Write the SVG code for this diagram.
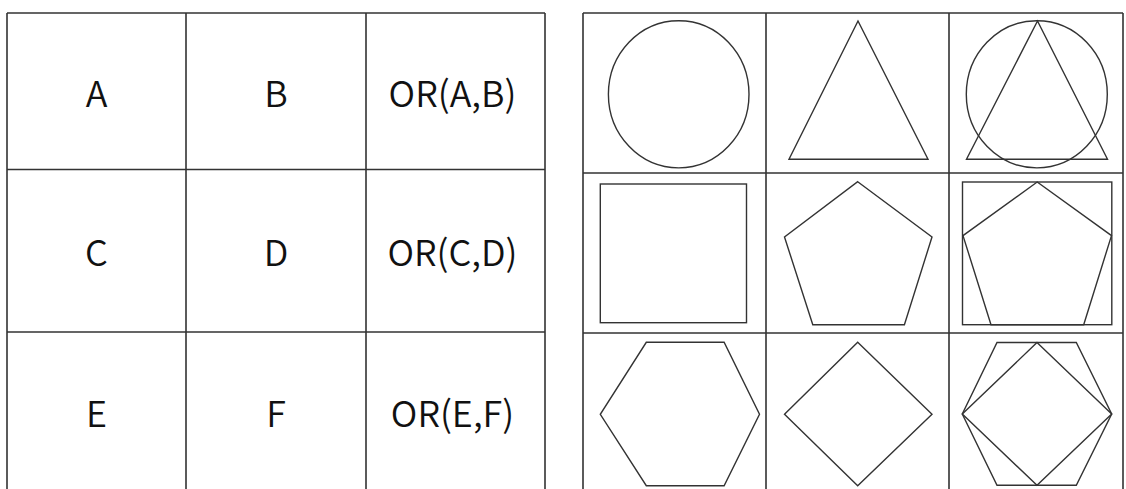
<svg xmlns="http://www.w3.org/2000/svg" width="1126" height="489" viewBox="0 0 1126 489">
<style>
.grid{stroke:#333;stroke-width:1.6;fill:none}
.sh{stroke:#333;stroke-width:1.4;fill:none;stroke-linejoin:miter}
.lbl{font-family:"Noto Sans CJK SC","Noto Sans",sans-serif;font-size:36px;font-weight:350;fill:#111;text-anchor:middle}
</style>
<rect width="1126" height="489" fill="#fff"/>
<g id="left-table" class="grid">
<path d="M7,13 H545 M7,169.5 H545 M7,332 H545 M7,13 V489 M186,13 V489 M366,13 V489 M545,13 V489"/>
</g>
<g id="cell-A"><text class="lbl" x="96.5" y="106.5">A</text></g>
<g id="cell-B"><text class="lbl" x="276" y="106.5">B</text></g>
<g id="cell-ORAB"><text class="lbl" x="452.5" y="106.5">OR(A,B)</text></g>
<g id="cell-C"><text class="lbl" x="96.5" y="265.5">C</text></g>
<g id="cell-D"><text class="lbl" x="276" y="265.5">D</text></g>
<g id="cell-ORCD"><text class="lbl" x="452.5" y="265.5">OR(C,D)</text></g>
<g id="cell-E"><text class="lbl" x="96.5" y="427">E</text></g>
<g id="cell-F"><text class="lbl" x="276" y="427">F</text></g>
<g id="cell-OREF"><text class="lbl" x="452.5" y="427">OR(E,F)</text></g>
<g id="right-table" class="grid">
<path d="M583,13 H1123 M583,173 H1123 M583,333 H1123 M583,13 V489 M766,13 V489 M949,13 V489 M1123,13 V489"/>
</g>
<g id="circle" class="sh"><ellipse cx="678.7" cy="94.3" rx="70.3" ry="73.6"/></g>
<g id="triangle" class="sh"><polygon points="858,21 789,159.3 928,159.3"/></g>
<g id="circle-triangle" class="sh">
<ellipse cx="1036.8" cy="94.3" rx="70.5" ry="73.6"/>
<polygon points="1037.5,21 966.5,159.3 1107.5,159.3"/>
</g>
<g id="square" class="sh"><rect x="600.3" y="184" width="146.2" height="138.7"/></g>
<g id="pentagon" class="sh"><polygon points="857.7,181.7 932,237 904.4,324.7 812.8,324.7 784.5,237"/></g>
<g id="square-pentagon" class="sh">
<rect x="962.5" y="182" width="149.3" height="142.7"/>
<polygon points="1037.2,182 1111.5,235.6 1083.7,324.7 991,324.7 963,235.6"/>
</g>
<g id="hexagon" class="sh"><polygon points="646.3,342.3 724.1,342.3 759.5,414.3 724.1,485.7 646.3,485.7 600.3,414.3"/></g>
<g id="diamond" class="sh"><polygon points="857.7,342.3 932,414.3 857.7,485.7 784.5,414.3"/></g>
<g id="hexagon-diamond" class="sh">
<polygon points="997,342.5 1076.3,342.5 1111.7,414 1076.3,485.3 997,485.3 962.3,414"/>
<polygon points="1037,342.5 1111.7,414 1037,485.3 962.3,414"/>
</g>
</svg>
